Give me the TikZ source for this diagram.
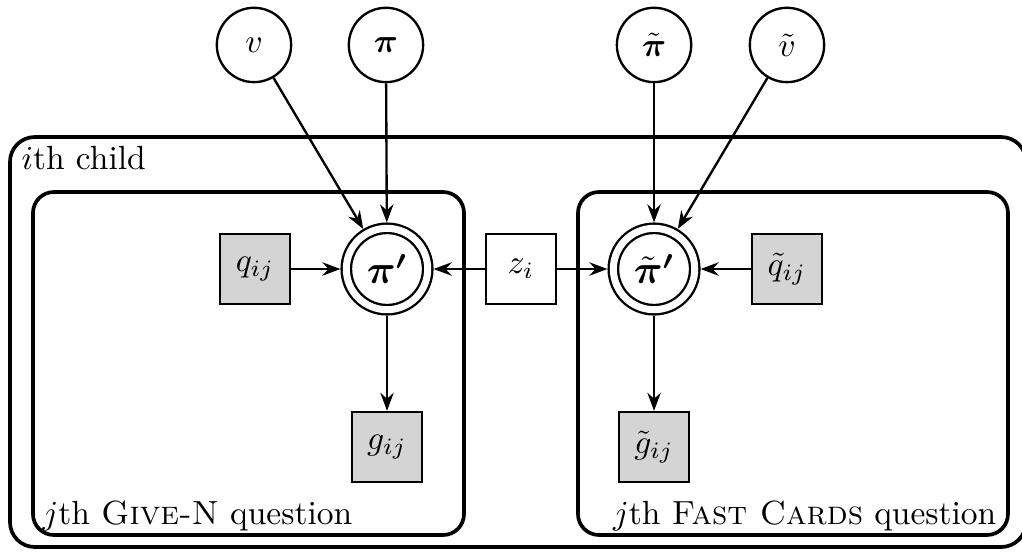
\documentclass[tikz,border=0pt]{standalone}
\usepackage{amsmath}
\usepackage{bm}
\usetikzlibrary{arrows.meta}

\begin{document}
\begin{tikzpicture}[
  latent/.style={circle, draw, line width=.7pt, minimum size=.78cm, inner sep=0pt},
  derived/.style={circle, draw, line width=.7pt, double, double distance=2.1pt, minimum size=.854cm, inner sep=0pt, outer sep=1.75pt},
  observed/.style={rectangle, draw, line width=.7pt, fill=black!17, minimum size=.735cm, inner sep=0pt},
  given/.style={rectangle, draw, line width=.7pt, fill=white, minimum size=.735cm, inner sep=0pt},
  plate/.style={draw, line width=1.1pt, rounded corners=.22cm},
  edge/.style={-{Stealth[length=5.4pt,width=4pt,inset=1.8pt]}, line width=.7pt}
]
\useasboundingbox (0,0) rectangle (10.724,5.803);
% plates
\draw[plate, rounded corners=.26cm] (0.105,0.063) rectangle (10.766,4.365);
\draw[plate] (0.346,0.189) rectangle (4.869,3.788);
\draw[plate] (6.065,0.189) rectangle (10.577,3.788);
\node[anchor=base west, inner sep=0pt] (childlbl) at (0.220,4.019) {$i$th child};
\node[anchor=base west, inner sep=0pt] (givelbl) at (0.441,0.304) {$j$th \textsc{Give-N} question};
\node[anchor=base east, inner sep=0pt] (fastlbl) at (10.462,0.304) {$j$th \textsc{Fast Cards} question};
% priors
\node[latent] (v) at (2.665,5.331) {$v$};
\node[latent] (pi) at (4.050,5.331) {$\bm{\pi}$};
\node[latent] (pit) at (6.863,5.331) {$\tilde{\bm{\pi}}$};
\node[latent] (vt) at (8.258,5.331) {$\tilde{v}$};
% questions
\node[derived] (pip) at (4.061,2.980) {\large$\bm{\pi'}$};
\node[derived] (pitp) at (6.863,2.980) {\large$\tilde{\bm{\pi}}\bm{'}$};
\node[given] (z) at (5.467,2.980) {$z_i$};
\node[observed] (q) at (2.676,2.980) {$q_{ij}$};
\node[observed] (qt) at (8.258,2.980) {$\tilde{q}_{ij}$};
\node[observed] (g) at (4.061,1.112) {$g_{ij}$};
\node[observed] (gt) at (6.863,1.112) {$\tilde{g}_{ij}$};
% edges
\draw[edge] (v) -- (pip);
\draw[edge] (pi) -- (pip);
\draw[edge] (pit) -- (pitp);
\draw[edge] (vt) -- (pitp);
\draw[edge] (q) -- (pip);
\draw[edge] (qt) -- (pitp);
\draw[edge] (z) -- (pip);
\draw[edge] (z) -- (pitp);
\draw[edge] (pip) -- (g);
\draw[edge] (pitp) -- (gt);
\end{tikzpicture}
\end{document}
